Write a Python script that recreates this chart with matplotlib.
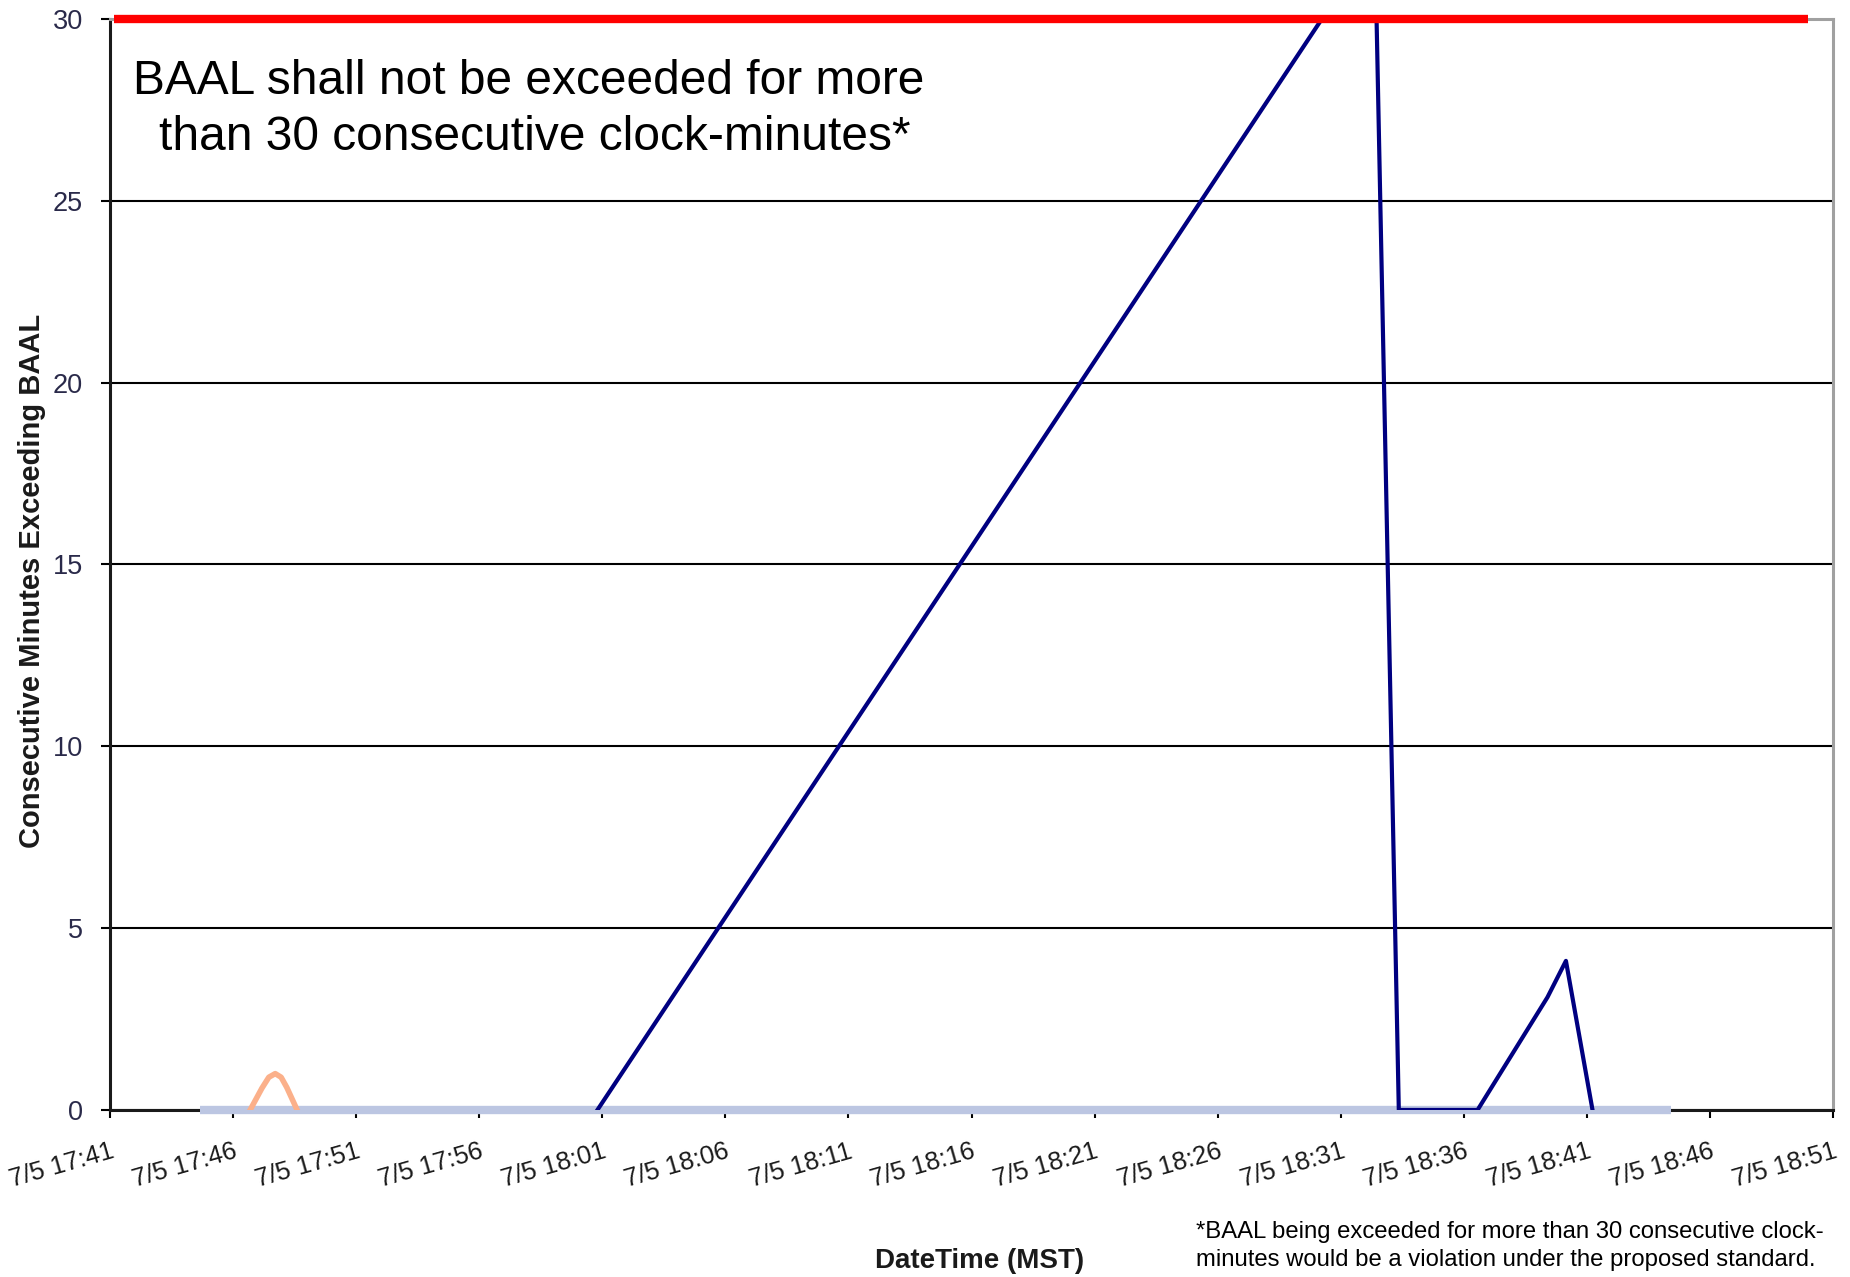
import matplotlib
matplotlib.use("Agg")
import matplotlib.pyplot as plt

plt.rcParams['font.family'] = ['Liberation Sans', 'DejaVu Sans']

# x values are minutes after 7/5 17:41 (MST)
tick_minutes = list(range(0, 75, 5))
tick_labels = ['7/5 17:41', '7/5 17:46', '7/5 17:51', '7/5 17:56', '7/5 18:01',
               '7/5 18:06', '7/5 18:11', '7/5 18:16', '7/5 18:21', '7/5 18:26',
               '7/5 18:31', '7/5 18:36', '7/5 18:41', '7/5 18:46', '7/5 18:51']

# consecutive minutes exceeding BAAL (navy series)
blue_t = [19.8, 51.39, 52.36, 55.56, 58.4, 59.15, 60.23]
blue_v = [0, 32.2, 0, 0, 3.1, 4.1, 0]

# second series (light orange bump)
orange_t = [5.69, 6.17, 6.45, 6.71, 6.95, 7.18, 7.6]
orange_v = [0, 0.6, 0.9, 1.0, 0.9, 0.62, 0]

# zero baseline series
base_t = [3.66, 63.4]
base_v = [0, 0]

# 30 minute limit
limit_t = [0.16, 69.0]
limit_v = [30, 30]

fig = plt.figure(figsize=(18.5, 12.77), dpi=100)
ax = fig.add_axes([0.0595, 0.1308, 0.9313, 0.8543])

ax.set_xlim(0, 70)
ax.set_ylim(0, 30)

ax.set_yticks([0, 5, 10, 15, 20, 25, 30])
ax.grid(axis='y', color='black', linewidth=1.5, zorder=0)
ax.set_axisbelow(True)

ax.plot(base_t, base_v, color='#bcc6e2', linewidth=6, solid_capstyle='butt',
        clip_on=False, zorder=3)
ax.plot(orange_t, orange_v, color='#fbb08a', linewidth=4,
        solid_joinstyle='round', zorder=4)
ax.plot(blue_t, blue_v, color='#000080', linewidth=3,
        solid_joinstyle='round', zorder=5)
ax.plot(limit_t, limit_v, color='#ff0000', linewidth=6, solid_capstyle='butt',
        clip_on=False, zorder=6)

ax.set_xticks(tick_minutes)
ax.set_xticklabels(tick_labels, rotation=16, ha='right', va='top',
                   rotation_mode='anchor', fontsize=18.5, color='#1a1a1a')
ax.tick_params(axis='x', direction='out', length=6, width=1.5, pad=15)
ax.tick_params(axis='y', direction='out', length=6.5, width=1.5, pad=13,
               labelsize=19.5, labelcolor='#2a2a4a')

for side in ['left', 'bottom']:
    ax.spines[side].set_color('#1a1a1a')
    ax.spines[side].set_linewidth(2.2)
for side in ['top', 'right']:
    ax.spines[side].set_color('#a0a0a0')
    ax.spines[side].set_linewidth(2.2)

ax.set_xlabel('DateTime (MST)', fontsize=20, fontweight='bold', color='#1a1a1a',
              va='baseline')
ax.xaxis.set_label_coords(0.5045, -0.1448)
ax.set_ylabel('Consecutive Minutes Exceeding BAAL', fontsize=21,
              fontweight='bold', color='#1a1a1a')
ax.yaxis.set_label_coords(-0.037, 0.485)

fig.text(0.2857, 0.9264, 'BAAL shall not be exceeded for more',
         ha='center', va='baseline', fontsize=34.5, color='black')
fig.text(0.289, 0.8825, 'than 30 consecutive clock-minutes*',
         ha='center', va='baseline', fontsize=34.5, color='black')

fig.text(0.6465, 1 - 1238 / 1277,
         '*BAAL being exceeded for more than 30 consecutive clock-',
         ha='left', va='baseline', fontsize=17.2, color='black')
fig.text(0.6465, 1 - 1266 / 1277,
         'minutes would be a violation under the proposed standard.',
         ha='left', va='baseline', fontsize=17.2, color='black')

fig.savefig('out.png', dpi=100)
